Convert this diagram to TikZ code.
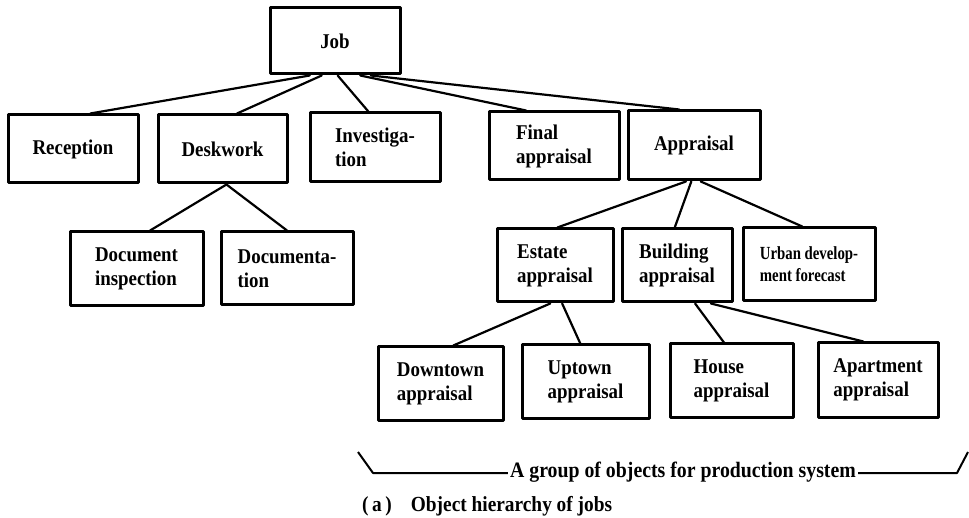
\documentclass[tikz,border=0pt]{standalone}
\usepackage{fontspec}
% a slightly condensed bold serif for all labels
\setmainfont{Liberation Serif}[FakeStretch=0.9]
\newfontfamily\narrowfont{Liberation Serif}[FakeStretch=0.8]
\usetikzlibrary{calc}
\begin{document}
\begin{tikzpicture}[x=1pt,y=-1pt,
  jobbox/.style={draw,line width=3pt,line join=round,inner sep=0pt,
    align=left,font=\fontsize{21}{24}\selectfont\bfseries},
  link/.style={line width=2.2pt,line cap=round},
  brace/.style={line width=2pt,line join=round}]
\useasboundingbox (0,0) rectangle (969,518);
% edge point at fraction #2 along the bottom / top side of node #1
\def\bot#1#2{($(#1.south west)!#2!(#1.south east)$)}
\def\tp#1#2{($(#1.north west)!#2!(#1.north east)$)}

% root
\node[jobbox,minimum width=130pt,minimum height=66pt] (job) at (335,41) {Job};

% first level
\node[jobbox,minimum width=130pt,minimum height=68pt] (reception) at (73,149) {Reception};
\node[jobbox,minimum width=129pt,minimum height=68pt] (deskwork) at (222.5,149) {Deskwork};
\node[jobbox,minimum width=130pt,minimum height=69pt] (investigation) at (375,147.5) {Investiga-\\tion};
\node[jobbox,minimum width=130pt,minimum height=68pt] (final) at (554,146) {Final\\appraisal};
\node[jobbox,minimum width=132pt,minimum height=69pt] (appraisal) at (694,145.5) {Appraisal};

% deskwork parts
\node[jobbox,minimum width=133pt,minimum height=74pt] (docinsp) at (136.5,269) {Document\\inspection};
\node[jobbox,minimum width=132pt,minimum height=73pt] (documentation) at (287,268.5) {Documenta-\\tion};

% appraisal parts
\node[jobbox,minimum width=116pt,minimum height=73pt] (estate) at (555,265.5) {Estate\\appraisal};
\node[jobbox,minimum width=110pt,minimum height=73pt] (building) at (677,265.5) {Building\\appraisal};
\node[jobbox,minimum width=132pt,minimum height=73pt,
  font=\narrowfont\fontsize{18.5}{22}\selectfont\bfseries] (urban) at (809,264.5) {Urban develop-\\ment forecast};

% leaves
\node[jobbox,minimum width=125pt,minimum height=73pt] (downtown) at (440.5,383.5) {Downtown\\appraisal};
\node[jobbox,minimum width=127pt,minimum height=73pt] (uptown) at (585.5,381.5) {Uptown\\appraisal};
\node[jobbox,minimum width=123pt,minimum height=73pt] (house) at (731.5,380.5) {House\\appraisal};
\node[jobbox,minimum width=120pt,minimum height=74pt] (apartment) at (878,380) {Apartment\\appraisal};

% hierarchy links
\draw[link] \bot{job}{0.31} -- \tp{reception}{0.63};
\draw[link] \bot{job}{0.40} -- \tp{deskwork}{0.61};
\draw[link] \bot{job}{0.52} -- \tp{investigation}{0.45};
\draw[link] \bot{job}{0.69} -- \tp{final}{0.29};
\draw[link] \bot{job}{0.77} -- \tp{appraisal}{0.39};

\draw[link] \bot{deskwork}{0.53} -- \tp{docinsp}{0.60};
\draw[link] \bot{deskwork}{0.53} -- \tp{documentation}{0.50};

\draw[link] \bot{appraisal}{0.44} -- \tp{estate}{0.52};
\draw[link] \bot{appraisal}{0.48} -- \tp{building}{0.48};
\draw[link] \bot{appraisal}{0.55} -- \tp{urban}{0.45};

\draw[link] \bot{estate}{0.46} -- \tp{downtown}{0.60};
\draw[link] \bot{estate}{0.56} -- \tp{uptown}{0.46};

\draw[link] \bot{building}{0.66} -- \tp{house}{0.44};
\draw[link] \bot{building}{0.80} -- \tp{apartment}{0.38};

% group bracket
\node[anchor=base,inner sep=2pt,font=\fontsize{22}{24}\selectfont\bfseries]
  (group) at (683,477) {A group of objects for production system};
\coordinate (gl1) at (358,452);
\coordinate (gl2) at (373,473);
\coordinate (gr1) at (957,473);
\coordinate (gr2) at (968,452);
\draw[brace] (gl1) -- (gl2) -- (group.west |- gl2);
\draw[brace] (group.east |- gr1) -- (gr1) -- (gr2);

% caption
\node[anchor=base west,inner sep=0pt,font=\fontsize{21.5}{24}\selectfont\bfseries]
  (caption) at (362,511) {(\,a\,)\hspace{19pt}Object hierarchy of jobs};
\end{tikzpicture}
\end{document}
